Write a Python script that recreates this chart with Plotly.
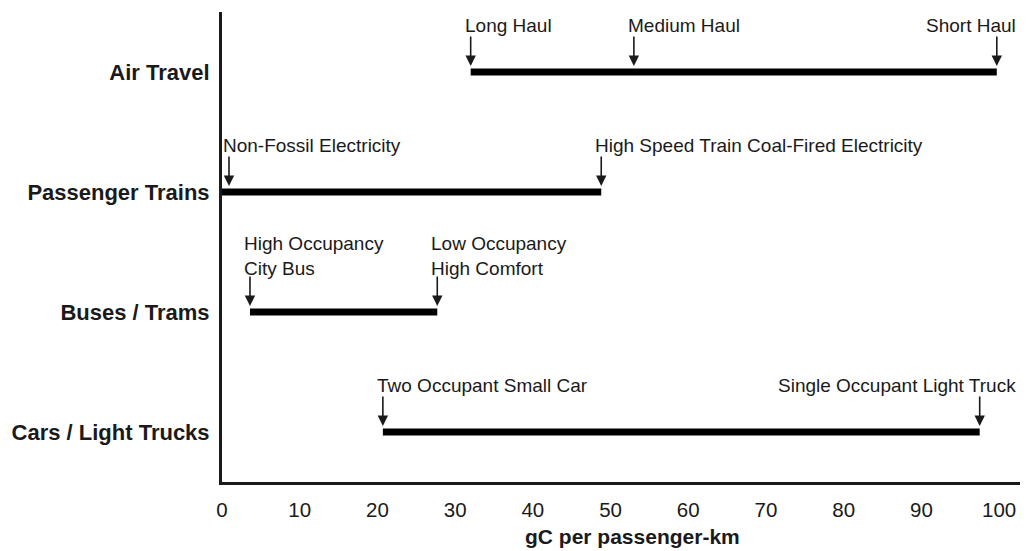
import plotly.graph_objects as go

# ---- data ----
modes = ["Cars / Light Trucks", "Buses / Trams", "Passenger Trains", "Air Travel"]
range_low = [20.7, 3.6, 0.0, 32.0]
range_high = [97.5, 27.7, 48.8, 99.7]

marker_mode = ["Air Travel", "Air Travel", "Air Travel",
               "Passenger Trains", "Passenger Trains",
               "Buses / Trams", "Buses / Trams",
               "Cars / Light Trucks", "Cars / Light Trucks"]
marker_value = [32.0, 53.0, 99.7, 0.9, 48.8, 3.6, 27.7, 20.7, 97.5]
marker_label = ["Long Haul", "Medium Haul", "Short Haul",
                "Non-Fossil Electricity", "High Speed Train Coal-Fired Electricity",
                "High Occupancy<br>City Bus", "Low Occupancy<br>High Comfort",
                "Two Occupant Small Car", "Single Occupant Light Truck"]
marker_side = ["left", "left", "edge", "left", "left", "left", "left", "left", "edge"]

x_ticks = [0, 10, 20, 30, 40, 50, 60, 70, 80, 90, 100]
x_title = "gC per passenger-km"

FONT = "Liberation Sans, Arial, Helvetica, sans-serif"
INK = "#1a1a1a"

fig = go.Figure()

xs, ys = [], []
for i, m in enumerate(modes):
    xs += [range_low[i], range_high[i], None]
    ys += [i, i, None]
fig.add_trace(go.Scatter(x=xs, y=ys, mode="lines",
                         line=dict(color="black", width=7),
                         hoverinfo="skip", showlegend=False))

annotations = []
for m, v, lab, side in zip(marker_mode, marker_value, marker_label, marker_side):
    yi = modes.index(m)
    annotations.append(dict(x=v, y=yi, xref="x", yref="y", text="",
                            showarrow=True, ax=0, ay=-37, arrowhead=2,
                            arrowsize=1.3, arrowwidth=1.6, arrowcolor=INK,
                            standoff=6))
    ysh = 31 if "<br>" in lab else 34
    if side == "edge":
        annotations.append(dict(x=1.0, y=yi, xref="paper", yref="y", text=lab,
                                showarrow=False, xanchor="right", yanchor="bottom",
                                align="right", yshift=ysh, xshift=-6,
                                font=dict(family=FONT, size=19, color=INK)))
    else:
        annotations.append(dict(x=v, y=yi, xref="x", yref="y", text=lab,
                                showarrow=False, xanchor="left", yanchor="bottom",
                                align="left", xshift=-8, yshift=ysh,
                                font=dict(family=FONT, size=19, color=INK)))

annotations.append(dict(x=0.512, y=0, xref="paper", yref="paper", text="<b>" + x_title + "</b>",
                        showarrow=False, xanchor="center", yanchor="middle", yshift=-54,
                        font=dict(family=FONT, size=21, color=INK)))

fig.update_layout(
    width=1020, height=543,
    margin=dict(l=212, r=4, t=4, b=69),
    paper_bgcolor="white", plot_bgcolor="white",
    annotations=annotations,
    font=dict(family=FONT, color=INK),
    xaxis=dict(range=[0, 103.2], tickvals=x_ticks, ticktext=[str(t) for t in x_ticks],
               showgrid=False, zeroline=False, showline=True, linecolor=INK, linewidth=3,
               ticks="", ticklabelstandoff=7,
               tickfont=dict(family=FONT, size=20.5, color=INK)),
    yaxis=dict(range=[-0.417, 3.5], tickvals=list(range(len(modes))),
               ticktext=["<b>" + m + "</b>" for m in modes],
               showgrid=False, zeroline=False, showline=True, linecolor=INK, linewidth=3,
               ticks="", ticklabelstandoff=5,
               tickfont=dict(family=FONT, size=22, color=INK)),
)

fig.write_html("out.html")
